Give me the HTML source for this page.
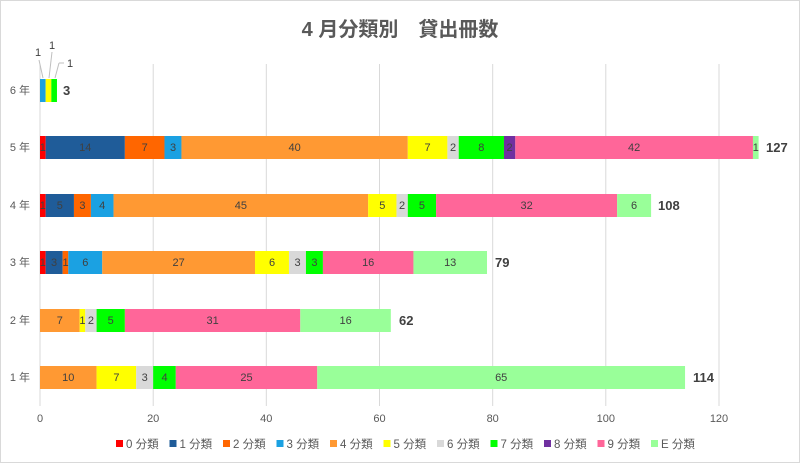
<!DOCTYPE html>
<html><head><meta charset="utf-8"><style>
html,body{margin:0;padding:0;background:#fff}
svg{display:block;font-family:"Liberation Sans","Noto Sans CJK JP",sans-serif}
.l{font-size:11px;fill:#404040;text-anchor:middle}
.t{font-size:13px;font-weight:bold;fill:#404040}
.ax{font-size:11px;fill:#595959}
.lg{font-size:11.5px;fill:#595959}
</style></head><body>
<svg width="800" height="463" viewBox="0 0 800 463">
<rect x="0.5" y="0.5" width="799" height="462" fill="#fff" stroke="#d9d9d9"/>
<text x="400" y="36" text-anchor="middle" font-size="20" font-weight="bold" fill="#595959">4 月分類別　貸出冊数</text>
<g stroke="#d9d9d9" stroke-width="1">
<line x1="40" y1="64" x2="40" y2="406"/><line x1="153.2" y1="64" x2="153.2" y2="406"/><line x1="266.3" y1="64" x2="266.3" y2="406"/><line x1="379.5" y1="64" x2="379.5" y2="406"/><line x1="492.7" y1="64" x2="492.7" y2="406"/><line x1="605.8" y1="64" x2="605.8" y2="406"/><line x1="719" y1="64" x2="719" y2="406"/>
</g>
<g class="ax" text-anchor="middle">
<text x="40" y="422">0</text><text x="153.2" y="422">20</text><text x="266.3" y="422">40</text><text x="379.5" y="422">60</text><text x="492.7" y="422">80</text><text x="605.8" y="422">100</text><text x="719" y="422">120</text>
</g>
<g class="ax" text-anchor="end">
<text x="30" y="94">6 年</text><text x="30" y="151">5 年</text><text x="30" y="209">4 年</text><text x="30" y="266">3 年</text><text x="30" y="324">2 年</text><text x="30" y="381">1 年</text>
</g>
<!-- 6年 -->
<rect x="40" y="79" width="5.66" height="23" fill="#1BA1E2"/>
<rect x="45.66" y="79" width="5.66" height="23" fill="#FFFF00"/>
<rect x="51.32" y="79" width="5.65" height="23" fill="#00FF00"/>
<g stroke="#bfbfbf"><line x1="43" y1="78" x2="39" y2="60"/><line x1="49" y1="78" x2="52" y2="52"/><line x1="55" y1="78" x2="59" y2="63"/><line x1="59" y1="63" x2="64" y2="63"/></g>
<text x="38" y="56" class="l">1</text><text x="52" y="49" class="l">1</text><text x="70" y="67" class="l">1</text>
<text x="63" y="95" class="t">3</text>
<!-- 5年 -->
<g>
<rect x="40" y="136" width="5.66" height="23" fill="#FF0000"/>
<rect x="45.66" y="136" width="79.21" height="23" fill="#1F5C99"/>
<rect x="124.87" y="136" width="39.61" height="23" fill="#FF6600"/>
<rect x="164.48" y="136" width="16.98" height="23" fill="#1BA1E2"/>
<rect x="181.46" y="136" width="226.33" height="23" fill="#FF9933"/>
<rect x="407.79" y="136" width="39.61" height="23" fill="#FFFF00"/>
<rect x="447.4" y="136" width="11.32" height="23" fill="#D9D9D9"/>
<rect x="458.72" y="136" width="45.26" height="23" fill="#00FF00"/>
<rect x="503.98" y="136" width="11.32" height="23" fill="#7030A0"/>
<rect x="515.3" y="136" width="237.65" height="23" fill="#FF6699"/>
<rect x="752.95" y="136" width="5.65" height="23" fill="#99FF99"/>
<text class="l" y="151"><tspan x="42.8">1</tspan><tspan x="85.3">14</tspan><tspan x="144.7">7</tspan><tspan x="173">3</tspan><tspan x="294.6">40</tspan><tspan x="427.6">7</tspan><tspan x="453">2</tspan><tspan x="481.3">8</tspan><tspan x="509.6">2</tspan><tspan x="634.1">42</tspan><tspan x="755.8">1</tspan></text>
<text x="766" y="152" class="t">127</text>
</g>
<!-- 4年 -->
<g>
<rect x="40" y="194" width="5.66" height="23" fill="#FF0000"/>
<rect x="45.66" y="194" width="28.29" height="23" fill="#1F5C99"/>
<rect x="73.95" y="194" width="16.97" height="23" fill="#FF6600"/>
<rect x="90.92" y="194" width="22.64" height="23" fill="#1BA1E2"/>
<rect x="113.56" y="194" width="254.62" height="23" fill="#FF9933"/>
<rect x="368.18" y="194" width="28.29" height="23" fill="#FFFF00"/>
<rect x="396.47" y="194" width="11.32" height="23" fill="#D9D9D9"/>
<rect x="407.79" y="194" width="28.29" height="23" fill="#00FF00"/>
<rect x="436.08" y="194" width="181.07" height="23" fill="#FF6699"/>
<rect x="617.15" y="194" width="33.95" height="23" fill="#99FF99"/>
<text class="l" y="209"><tspan x="42.8">1</tspan><tspan x="59.8">5</tspan><tspan x="82.4">3</tspan><tspan x="102.2">4</tspan><tspan x="240.9">45</tspan><tspan x="382.3">5</tspan><tspan x="402.1">2</tspan><tspan x="421.9">5</tspan><tspan x="526.6">32</tspan><tspan x="634.1">6</tspan></text>
<text x="658" y="210" class="t">108</text>
</g>
<!-- 3年 -->
<g>
<rect x="40" y="251" width="5.66" height="23" fill="#FF0000"/>
<rect x="45.66" y="251" width="16.97" height="23" fill="#1F5C99"/>
<rect x="62.63" y="251" width="5.66" height="23" fill="#FF6600"/>
<rect x="68.29" y="251" width="33.95" height="23" fill="#1BA1E2"/>
<rect x="102.24" y="251" width="152.78" height="23" fill="#FF9933"/>
<rect x="255.02" y="251" width="33.95" height="23" fill="#FFFF00"/>
<rect x="288.97" y="251" width="16.97" height="23" fill="#D9D9D9"/>
<rect x="305.94" y="251" width="16.98" height="23" fill="#00FF00"/>
<rect x="322.92" y="251" width="90.53" height="23" fill="#FF6699"/>
<rect x="413.45" y="251" width="73.56" height="23" fill="#99FF99"/>
<text class="l" y="266"><tspan x="42.8">1</tspan><tspan x="54.1">3</tspan><tspan x="65.5">1</tspan><tspan x="85.3">6</tspan><tspan x="178.6">27</tspan><tspan x="272">6</tspan><tspan x="297.5">3</tspan><tspan x="314.4">3</tspan><tspan x="368.2">16</tspan><tspan x="450.2">13</tspan></text>
<text x="495" y="267" class="t">79</text>
</g>
<!-- 2年 -->
<g>
<rect x="40" y="309" width="39.61" height="23" fill="#FF9933"/>
<rect x="79.61" y="309" width="5.66" height="23" fill="#FFFF00"/>
<rect x="85.27" y="309" width="11.31" height="23" fill="#D9D9D9"/>
<rect x="96.58" y="309" width="28.29" height="23" fill="#00FF00"/>
<rect x="124.87" y="309" width="175.41" height="23" fill="#FF6699"/>
<rect x="300.28" y="309" width="90.54" height="23" fill="#99FF99"/>
<text class="l" y="324"><tspan x="59.8">7</tspan><tspan x="82.4">1</tspan><tspan x="90.9">2</tspan><tspan x="110.7">5</tspan><tspan x="212.6">31</tspan><tspan x="345.6">16</tspan></text>
<text x="399" y="325" class="t">62</text>
</g>
<!-- 1年 -->
<g>
<rect x="40" y="366" width="56.58" height="23" fill="#FF9933"/>
<rect x="96.58" y="366" width="39.61" height="23" fill="#FFFF00"/>
<rect x="136.19" y="366" width="16.98" height="23" fill="#D9D9D9"/>
<rect x="153.17" y="366" width="22.63" height="23" fill="#00FF00"/>
<rect x="175.8" y="366" width="141.46" height="23" fill="#FF6699"/>
<rect x="317.26" y="366" width="367.79" height="23" fill="#99FF99"/>
<text class="l" y="381"><tspan x="68.3">10</tspan><tspan x="116.4">7</tspan><tspan x="144.7">3</tspan><tspan x="164.5">4</tspan><tspan x="246.5">25</tspan><tspan x="501.2">65</tspan></text>
<text x="693" y="382" class="t">114</text>
</g>
<!-- legend -->
<g class="lg">
<rect x="116" y="440" width="7" height="7" fill="#FF0000"/><text x="126" y="448">0 分類</text>
<rect x="169.5" y="440" width="7" height="7" fill="#1F5C99"/><text x="179.5" y="448">1 分類</text>
<rect x="223" y="440" width="7" height="7" fill="#FF6600"/><text x="233" y="448">2 分類</text>
<rect x="276.5" y="440" width="7" height="7" fill="#1BA1E2"/><text x="286.5" y="448">3 分類</text>
<rect x="330" y="440" width="7" height="7" fill="#FF9933"/><text x="340" y="448">4 分類</text>
<rect x="383.5" y="440" width="7" height="7" fill="#FFFF00"/><text x="393.5" y="448">5 分類</text>
<rect x="437" y="440" width="7" height="7" fill="#D9D9D9"/><text x="447" y="448">6 分類</text>
<rect x="490.5" y="440" width="7" height="7" fill="#00FF00"/><text x="500.5" y="448">7 分類</text>
<rect x="544" y="440" width="7" height="7" fill="#7030A0"/><text x="554" y="448">8 分類</text>
<rect x="597.5" y="440" width="7" height="7" fill="#FF6699"/><text x="607.5" y="448">9 分類</text>
<rect x="651" y="440" width="7" height="7" fill="#99FF99"/><text x="661" y="448">E 分類</text>
</g>
</svg>
</body></html>
